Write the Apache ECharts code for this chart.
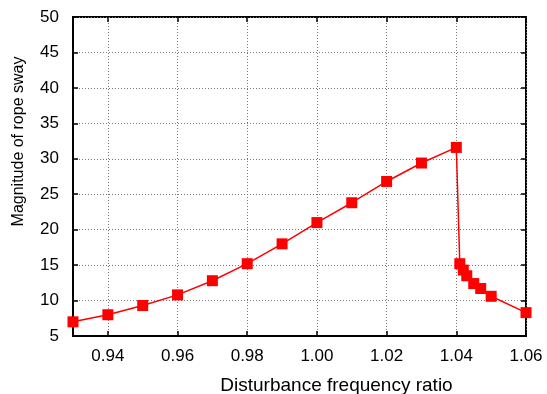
<!DOCTYPE html>
<html>
<head>
<meta charset="utf-8">
<script src="https://cdn.jsdelivr.net/npm/echarts@6/dist/echarts.min.js"></script>
<style>
  html, body { margin: 0; padding: 0; background: #fff; }
  #main { width: 547px; height: 394px; }
</style>
</head>
<body>
<div id="main"></div>
<script>
// frequency ratio (x) and sway magnitude (y)
var ratio = [0.93, 0.94, 0.95, 0.96, 0.97, 0.98, 0.99, 1.00, 1.01, 1.02, 1.03, 1.04,
             1.041, 1.042, 1.043, 1.045, 1.047, 1.05, 1.06];
var sway  = [7.0, 8.0, 9.3, 10.8, 12.8, 15.2, 18.0, 21.0, 23.8, 26.8, 29.4, 31.6,
             15.2, 14.3, 13.5, 12.4, 11.7, 10.6, 8.3];
var xTicks = [0.94, 0.96, 0.98, 1.00, 1.02, 1.04, 1.06];

var points = ratio.map(function (r, i) { return [r, sway[i]]; });

var chart = echarts.init(document.getElementById('main'));

var font = 'Liberation Sans, Arial, sans-serif';
var dotted = { show: true, lineStyle: { color: '#777', type: [1, 2], width: 1 } };

chart.setOption({
  animation: false,
  grid: { left: 73, top: 17, width: 453, height: 319, outerBoundsMode: 'none',
          show: true, borderColor: '#000', borderWidth: 2 },
  xAxis: [{
    type: 'value', min: 0.93, max: 1.06,
    name: 'Disturbance frequency ratio', nameLocation: 'middle', nameGap: 40,
    nameTextStyle: { fontFamily: font, fontSize: 19, color: '#000', padding: [0, 0, 0, 74] },
    axisLine: { lineStyle: { color: '#000', width: 2 } },
    axisTick: { inside: true, length: 5, customValues: xTicks, lineStyle: { color: '#000', width: 1.5 } },
    axisLabel: { customValues: xTicks, margin: 12, fontFamily: font, fontSize: 17, color: '#000',
                 formatter: function (v) { return v.toFixed(2); } },
    splitLine: dotted
  }, {
    type: 'value', position: 'top', min: 0.93, max: 1.06,
    axisLine: { show: false },
    axisTick: { inside: true, length: 5, customValues: xTicks, lineStyle: { color: '#000', width: 1.5 } },
    axisLabel: { show: false }, splitLine: { show: false }
  }],
  yAxis: [{
    type: 'value', min: 5, max: 50, interval: 5,
    name: 'Magnitude of rope sway', nameLocation: 'middle', nameGap: 46,
    nameTextStyle: { fontFamily: font, fontSize: 16, color: '#000', padding: [0, 0, 0, 70] },
    axisLine: { show: true, lineStyle: { color: '#000', width: 2 } },
    axisTick: { show: true, inside: true, length: 5, lineStyle: { color: '#000', width: 1.5 } },
    axisLabel: { margin: 14, fontFamily: font, fontSize: 17, color: '#000' },
    splitLine: dotted
  }, {
    type: 'value', position: 'right', min: 5, max: 50, interval: 5,
    axisLine: { show: false },
    axisTick: { show: true, inside: true, length: 5, lineStyle: { color: '#000', width: 1.5 } },
    axisLabel: { show: false }, splitLine: { show: false }
  }],
  series: [{
    type: 'line',
    data: points,
    symbol: 'rect',
    symbolSize: 11,
    itemStyle: { color: '#ff0000' },
    lineStyle: { color: '#ff0000', width: 1.5 }
  }]
});
</script>
</body>
</html>
